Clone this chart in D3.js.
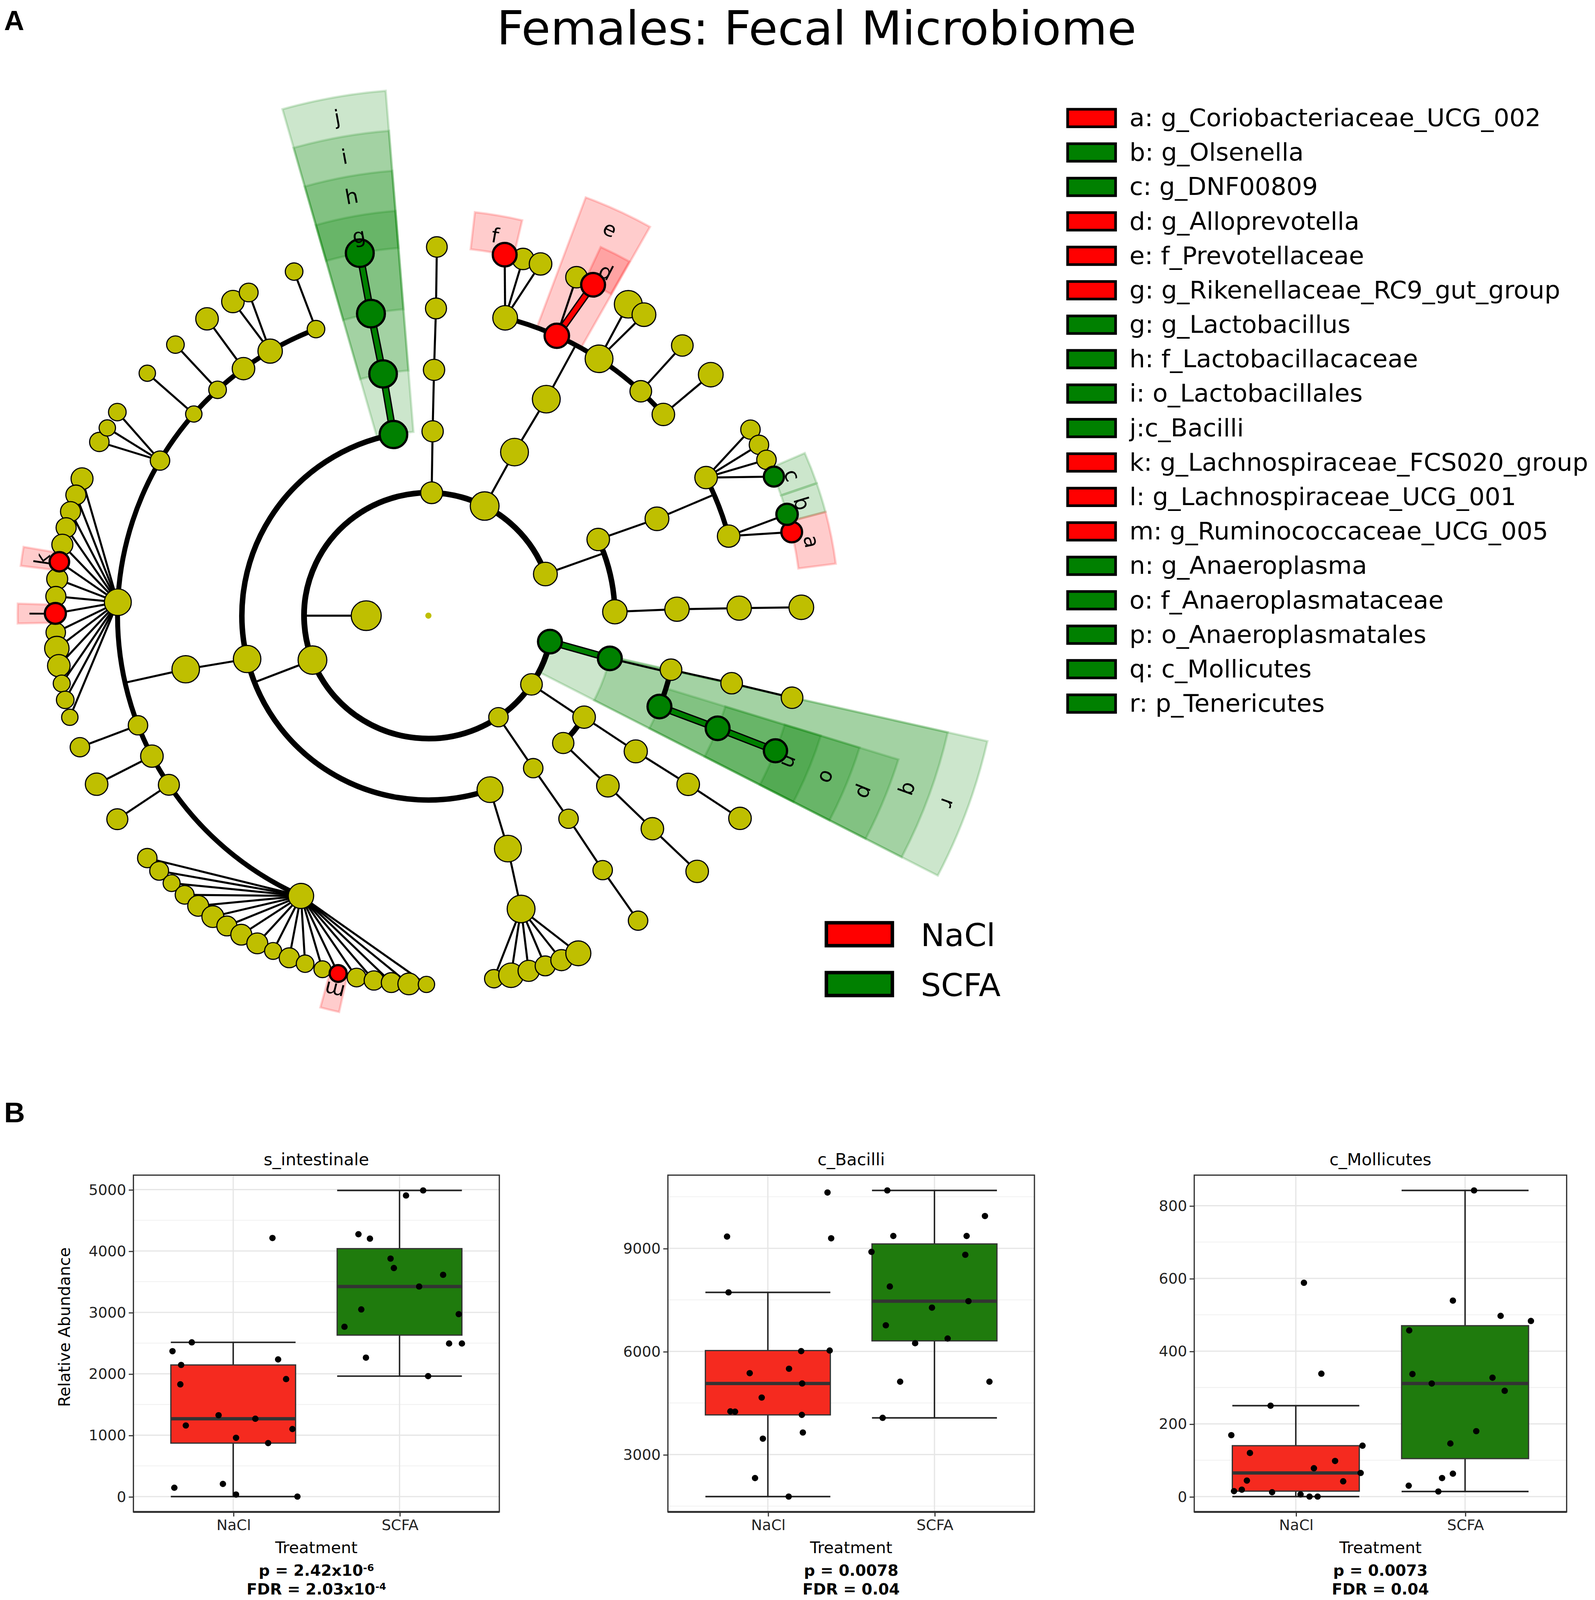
<!DOCTYPE html>
<html>
<head>
<meta charset="utf-8">
<script src="https://cdn.jsdelivr.net/npm/d3@7"></script>
<style>
html, body { margin: 0; padding: 0; background: #fff; overflow: hidden; }
svg { display: block; }
</style>
</head>
<body>
<div id="chart"></div>
<script>
// ---------- cladogram data ----------
// [id, parent, level, angle (deg, clockwise from 3 o'clock), abundance index, enriched in]
var clades = [
  ["root", null, 0, 0, 2.0, ""],
  ["K", "root", 1, 180, 9.7, ""],
  ["P1", "K", 2, 271.5, 7.1, ""],
  ["P2", "K", 2, 296.9, 9.3, ""],
  ["P3", "K", 2, 340.2, 7.7, ""],
  ["P4", "K", 2, 12.2, 7.7, "SCFA"],
  ["P5", "K", 2, 34.0, 7.0, ""],
  ["P6", "K", 2, 55.7, 6.3, ""],
  ["P7", "K", 2, 158.8, 9.3, ""],
  ["C1", "P1", 3, 271.3, 6.9, ""],
  ["O1", "C1", 4, 271.3, 6.9, ""],
  ["F1", "O1", 5, 271.4, 6.8, ""],
  ["C2", "P2", 3, 297.5, 9.0, ""],
  ["O2", "C2", 4, 298.3, 9.0, ""],
  ["F2a", "O2", 5, 284.3, 8.0, ""],
  ["F2b", "O2", 5, 294.4, 7.9, "NaCl"],
  ["F2c", "O2", 5, 303.3, 9.0, ""],
  ["F2d", "O2", 5, 313.1, 7.0, ""],
  ["F2e", "O2", 5, 319.1, 7.3, ""],
  ["C3a", "P3", 3, 335.6, 7.3, ""],
  ["C3b", "P3", 3, 358.8, 7.9, ""],
  ["O3a", "C3a", 4, 336.8, 7.7, ""],
  ["O3b", "C3b", 4, 358.5, 7.9, ""],
  ["F3a", "O3a", 5, 333.3, 7.3, ""],
  ["F3b", "O3a", 5, 345.0, 7.3, ""],
  ["F3c", "O3b", 5, 358.6, 7.9, ""],
  ["C4", "P4", 3, 13.4, 7.7, "SCFA"],
  ["O4a", "C4", 4, 12.7, 7.0, ""],
  ["O4b", "C4", 4, 21.7, 7.7, "SCFA"],
  ["F4a", "O4a", 5, 12.7, 7.0, ""],
  ["F4b", "O4b", 5, 21.5, 7.7, "SCFA"],
  ["C5a", "P5", 3, 33.4, 7.3, ""],
  ["C5b", "P5", 3, 43.7, 6.9, ""],
  ["O5a", "C5a", 4, 33.5, 7.5, ""],
  ["O5b", "C5b", 4, 43.8, 7.3, ""],
  ["F5a", "O5a", 5, 33.3, 7.3, ""],
  ["F5b", "O5b", 5, 43.9, 7.3, ""],
  ["C6", "P6", 3, 55.8, 6.3, ""],
  ["O6", "C6", 4, 55.7, 6.3, ""],
  ["F6", "O6", 5, 55.9, 6.3, ""],
  ["C7a", "P7", 3, 70.7, 8.4, ""],
  ["C7b", "P7", 3, 166.4, 8.9, ""],
  ["C7c", "P7", 3, 259.2, 8.9, "SCFA"],
  ["O7a", "C7a", 4, 71.35, 8.7, ""],
  ["O7b", "C7b", 4, 167.4, 8.9, ""],
  ["O7c", "C7c", 4, 259.5, 8.9, "SCFA"],
  ["F7a", "O7a", 5, 72.65, 9.0, ""],
  ["F7b1", "O7b", 5, 114.2, 8.2, ""],
  ["F7b2", "O7b", 5, 146.6, 6.8, ""],
  ["F7b3", "O7b", 5, 152.8, 7.3, ""],
  ["F7b4", "O7b", 5, 159.1, 6.3, ""],
  ["F7b5", "O7b", 5, 182.5, 8.7, ""],
  ["F7b6", "O7b", 5, 210.3, 6.3, ""],
  ["F7b7", "O7b", 5, 221.0, 5.3, ""],
  ["F7b8", "O7b", 5, 227.3, 5.7, ""],
  ["F7b9", "O7b", 5, 233.5, 7.3, ""],
  ["F7b10", "O7b", 5, 239.4, 7.9, ""],
  ["F7b11", "O7b", 5, 248.8, 5.7, ""],
  ["F7c", "O7c", 5, 259.35, 9.0, "SCFA"]
];

// genera per family: [angle, abundance index, enriched in]
var genera = {
  F1: [[271.3, 6.7]],
  F2a: [[281.8, 7.7, "NaCl"], [284.7, 7.0], [287.5, 7.3]],
  F2b: [[293.4, 7.0], [296.2, 7.7, "NaCl"]],
  F2c: [[302.4, 9.0], [305.3, 7.7]],
  F2d: [[312.9, 7.0]],
  F2e: [[319.2, 8.0]],
  F3a: [[329.7, 6.3], [332.4, 6.3], [335.0, 6.3], [337.85, 6.5, "SCFA"]],
  F3b: [[346.9, 6.7, "NaCl"], [344.05, 6.9, "SCFA"]],
  F3c: [[358.7, 8.0]],
  F4a: [[12.86, 7.0]],
  F4b: [[21.5, 7.5, "SCFA"]],
  F5a: [[33.35, 7.3]],
  F5b: [[43.9, 7.3]],
  F6: [[55.8, 6.3]],
  F7a: [[79.9, 6.0], [77.2, 8.0], [74.4, 6.9], [71.75, 6.5], [69.1, 6.9], [66.3, 8.1]],
  F7b1: [[138.9, 6.3], [136.2, 6.1], [133.5, 5.5], [130.8, 6.1], [128.1, 6.8], [125.3, 7.1],
         [122.7, 6.5], [120.1, 6.8], [117.3, 6.8], [114.6, 5.5], [111.9, 6.5], [109.3, 5.7],
         [106.5, 5.5], [104.0, 5.5, "NaCl"], [101.1, 6.1], [98.4, 6.3], [95.7, 6.5], [93.0, 7.1], [90.3, 5.3]],
  F7b2: [[146.5, 6.8]],
  F7b3: [[152.8, 7.3]],
  F7b4: [[159.1, 6.3]],
  F7b5: [[201.8, 7.1], [199.1, 6.5], [196.4, 6.5], [193.8, 6.5], [191.1, 6.8], [188.4, 6.3, "NaCl"],
         [185.7, 6.8], [183.0, 6.5], [180.35, 6.8, "NaCl"], [177.4, 6.3], [174.9, 7.9], [172.2, 7.3],
         [169.4, 5.5], [166.8, 5.7], [164.0, 5.3]],
  F7b6: [[208.1, 6.3], [210.6, 5.3], [213.5, 5.7]],
  F7b7: [[221.1, 5.3]],
  F7b8: [[227.3, 5.7]],
  F7b9: [[233.6, 7.3]],
  F7b10: [[238.4, 7.3], [241.2, 6.1]],
  F7b11: [[248.9, 5.7]],
  F7c: [[259.4, 9.0, "SCFA"]]
};

// shaded biomarker clades: [letter, group, level, start angle, end angle]
var highlights = [
  ["r", "SCFA", 2, 12.8, 27.3],
  ["q", "SCFA", 3, 12.8, 27.3],
  ["p", "SCFA", 4, 17.2, 27.3],
  ["o", "SCFA", 5, 17.2, 27.3],
  ["n", "SCFA", 6, 17.2, 27.3],
  ["j", "SCFA", 3, 254.1, 265.4],
  ["i", "SCFA", 4, 254.1, 265.4],
  ["h", "SCFA", 5, 254.1, 265.4],
  ["g", "SCFA", 6, 254.1, 265.4],
  ["e", "NaCl", 5, 290.4, 299.4],
  ["d", "NaCl", 6, 294.8, 299.3],
  ["f", "NaCl", 6, 276.5, 283.2],
  ["c", "SCFA", 6, 336.4, 340.95],
  ["b", "SCFA", 6, 341.0, 345.2],
  ["a", "NaCl", 6, 345.2, 352.65],
  ["k", "NaCl", 6, 187.05, 189.75],
  ["l", "NaCl", 6, 178.9, 181.7],
  ["m", "NaCl", 6, 102.55, 105.25]
];

var legendLabels = [
  "a: g_Coriobacteriaceae_UCG_002", "b: g_Olsenella", "c: g_DNF00809", "d: g_Alloprevotella",
  "e: f_Prevotellaceae", "g: g_Rikenellaceae_RC9_gut_group", "g: g_Lactobacillus",
  "h: f_Lactobacillacaceae", "i: o_Lactobacillales", "j:c_Bacilli",
  "k: g_Lachnospiraceae_FCS020_group", "l: g_Lachnospiraceae_UCG_001", "m: g_Ruminococcaceae_UCG_005",
  "n: g_Anaeroplasma", "o: f_Anaeroplasmataceae", "p: o_Anaeroplasmatales", "q: c_Mollicutes", "r: p_Tenericutes"
];
var legendGroups = ["NaCl", "SCFA", "SCFA", "NaCl", "NaCl", "NaCl", "SCFA", "SCFA", "SCFA", "SCFA",
  "NaCl", "NaCl", "NaCl", "SCFA", "SCFA", "SCFA", "SCFA", "SCFA"];

var groups = ["NaCl", "SCFA"];

// ---------- box plot data ----------
var boxTitles = ["s_intestinale", "c_Bacilli", "c_Mollicutes"];
var yTicks = [[0, 1000, 2000, 3000, 4000, 5000], [3000, 6000, 9000], [0, 200, 400, 600, 800]];
var intestinaleNaCl = [2368, 2512, 2144, 1828, 1158, 1325, 957, 1268, 871, 4211, 2234, 1914, 1100, 144, 206, 33, 0];
var intestinaleNaClJitter = [-0.365, -0.249, -0.313, -0.318, -0.285, -0.088, 0.017, 0.133, 0.210, 0.236, 0.270, 0.318, 0.356, -0.354, -0.062, 0.017, 0.386];
var intestinaleSCFA = [4904, 4986, 4273, 4201, 3876, 3722, 3612, 3421, 3048, 2971, 2766, 2493, 2493, 2263, 1962];
var intestinaleSCFAJitter = [0.039, 0.142, -0.247, -0.178, -0.054, -0.034, 0.262, 0.118, -0.230, 0.356, -0.331, 0.298, 0.375, -0.202, 0.172];
var bacilliNaCl = [9342, 10624, 9291, 7718, 6009, 6026, 5496, 5368, 5068, 4658, 4256, 4248, 4154, 3641, 3462, 2316, 1777];
var bacilliNaClJitter = [-0.245, 0.358, 0.380, -0.236, 0.200, 0.371, 0.127, -0.109, 0.206, -0.037, -0.225, -0.197, 0.204, 0.210, -0.030, -0.077, 0.125];
var bacilliSCFA = [10684, 9940, 9359, 9359, 8897, 8812, 7889, 7462, 7274, 6761, 6376, 6239, 5120, 5120, 4068];
var bacilliSCFAJitter = [-0.283, 0.303, -0.247, 0.193, -0.378, 0.185, -0.268, 0.204, -0.015, -0.292, 0.079, -0.116, -0.206, 0.330, -0.311];
var mollicutesNaCl = [588, 338, 250, 169, 140, 120, 98, 78, 65, 44, 42, 15, 19, 12, 6, 0, 0];
var mollicutesNaClJitter = [0.048, 0.151, -0.149, -0.381, 0.394, -0.271, 0.232, 0.107, 0.383, -0.289, 0.280, -0.365, -0.319, -0.140, 0.028, 0.081, 0.129];
var mollicutesSCFA = [842, 539, 497, 483, 457, 337, 327, 311, 291, 180, 146, 63, 51, 30, 14];
var mollicutesSCFAJitter = [0.053, -0.072, 0.210, 0.389, -0.330, -0.311, 0.162, -0.197, 0.234, 0.066, -0.087, -0.072, -0.136, -0.333, -0.158];
var pValues = [["2.42x10", "-6"], ["0.0078", ""], ["0.0073", ""]];
var fdrValues = [["2.03x10", "-4"], ["0.04", ""], ["0.04", ""]];

// ---------- setup ----------
// drawing units: the figure is laid out on a 1547-wide grid and stretched to the visible window
var W = 1547, H = 1547 * 4143 / 4083;
var vw = window.innerWidth || 4083, vh = window.innerHeight || 4143;
var svg = d3.select("#chart").append("svg")
    .attr("width", vw)
    .attr("height", vh)
    .attr("viewBox", "0 0 " + W + " " + H)
    .attr("preserveAspectRatio", "none")
    .style("font-family", "'DejaVu Sans', sans-serif");

var cladeColor = {"": "#bfbf00", "NaCl": "#ff0000", "SCFA": "#008000"};
var boxFill = {"NaCl": "#f52a1f", "SCFA": "#1f7b0d"};

// title and panel letters
svg.append("text").attr("x", 792).attr("y", 43.5).attr("text-anchor", "middle")
    .style("font-size", "46px").text("Females: Fecal Microbiome");
svg.append("text").attr("x", 4).attr("y", 29.5)
    .style("font-family", "'Liberation Sans', Arial, sans-serif").style("font-weight", "bold")
    .style("font-size", "27px").text("A");
svg.append("text").attr("x", 4).attr("y", 1101)
    .style("font-family", "'Liberation Sans', Arial, sans-serif").style("font-weight", "bold")
    .style("font-size", "28px").text("B");

// ---------- cladogram ----------
var cx = 415.5, cy = 604;
var rLevel = d3.scaleLinear().domain([0, 6]).range([0, 361.8]);
var rOuter = d3.scaleLinear().domain([7, 2]).range([359, 556]);
var rNode = d3.scaleLinear().domain([0, 10]).range([0, 15]);
var rad = d3.scaleLinear().domain([0, 180]).range([0, Math.PI]);
function pt(r, a) { return [cx + r * Math.cos(rad(a)), cy + r * Math.sin(rad(a))]; }

var byId = {};
clades.forEach(function(c) {
  byId[c[0]] = {id: c[0], parent: c[1], level: c[2], angle: c[3], abund: c[4], group: c[5], children: []};
});
Object.keys(genera).forEach(function(fid) {
  genera[fid].forEach(function(g, k) {
    var id = fid + "_" + k;
    byId[id] = {id: id, parent: fid, level: 6, angle: g[0], abund: g[1], group: g[2] || "", children: []};
  });
});
var nodes = Object.keys(byId).map(function(k) { return byId[k]; });
nodes.forEach(function(n) { if (n.parent) byId[n.parent].children.push(n); });

var clado = svg.append("g");

// shaded wedges
var wedge = d3.arc()
    .innerRadius(function(d) { return rLevel(d[2]); })
    .outerRadius(function(d) { return rOuter(d[2]); })
    .startAngle(function(d) { return rad(d[3] + 90); })
    .endAngle(function(d) { return rad(d[4] + 90); });
clado.selectAll(".wedge").data(highlights).enter().append("path")
    .attr("class", "wedge")
    .attr("transform", "translate(" + cx + "," + cy + ")")
    .attr("d", wedge)
    .attr("fill", function(d) { return cladeColor[d[1]]; })
    .attr("fill-opacity", 0.2)
    .attr("stroke", function(d) { return cladeColor[d[1]]; })
    .attr("stroke-opacity", 0.18)
    .attr("stroke-width", 2.2);

// edges
var thin = [], colored = [], arcs = [];
nodes.forEach(function(p) {
  if (!p.children.length || p.level === 0) return;
  if (p.level === 5 || p.children.length === 1) {
    p.children.forEach(function(c) {
      var seg = {a: pt(rLevel(p.level), p.angle), b: pt(rLevel(c.level), c.angle),
                 group: (c.group && c.group === p.group) ? c.group : ""};
      (seg.group ? colored : thin).push(seg);
    });
  } else {
    var r1 = rLevel(p.level + 1);
    thin.push({a: pt(rLevel(p.level), p.angle), b: pt(r1, p.angle)});
    var angs = p.children.map(function(c) { return c.angle; }).concat([p.angle]);
    arcs.push({r: r1, a0: d3.min(angs), a1: d3.max(angs), level: p.level + 1});
  }
});

var arcWidth = d3.scaleLinear().domain([2, 5]).range([5.6, 4.8]);
clado.selectAll(".arc").data(arcs).enter().append("path")
    .attr("d", function(d) {
      var p = d3.path();
      p.arc(cx, cy, d.r, rad(d.a0), rad(d.a1));
      return p.toString();
    })
    .attr("fill", "none").attr("stroke", "#000")
    .attr("stroke-width", function(d) { return arcWidth(d.level); });

clado.selectAll(".thin").data(thin).enter().append("line")
    .attr("x1", function(d) { return d.a[0]; }).attr("y1", function(d) { return d.a[1]; })
    .attr("x2", function(d) { return d.b[0]; }).attr("y2", function(d) { return d.b[1]; })
    .attr("stroke", "#000").attr("stroke-width", 2);

clado.selectAll(".cunder").data(colored).enter().append("line")
    .attr("x1", function(d) { return d.a[0]; }).attr("y1", function(d) { return d.a[1]; })
    .attr("x2", function(d) { return d.b[0]; }).attr("y2", function(d) { return d.b[1]; })
    .attr("stroke", "#000").attr("stroke-width", 7.2);
clado.selectAll(".cover").data(colored).enter().append("line")
    .attr("x1", function(d) { return d.a[0]; }).attr("y1", function(d) { return d.a[1]; })
    .attr("x2", function(d) { return d.b[0]; }).attr("y2", function(d) { return d.b[1]; })
    .attr("stroke", function(d) { return cladeColor[d.group]; }).attr("stroke-width", 4.6);

// nodes (biomarkers on top)
var drawOrder = nodes.filter(function(n) { return !n.group; })
    .concat(nodes.filter(function(n) { return n.group; }));
clado.selectAll(".node").data(drawOrder).enter().append("circle")
    .attr("cx", function(d) { return pt(rLevel(d.level), d.angle)[0]; })
    .attr("cy", function(d) { return pt(rLevel(d.level), d.angle)[1]; })
    .attr("r", function(d) { return rNode(d.abund); })
    .attr("fill", function(d) { return cladeColor[d.group]; })
    .attr("stroke", function(d) { return d.level === 0 ? "none" : "#000"; })
    .attr("stroke-width", function(d) { return d.group ? 2.2 : 1.1; });

// wedge letters
clado.selectAll(".wl").data(highlights).enter().append("text")
    .attr("transform", function(d) {
      var mid = (d[3] + d[4]) / 2, p = pt(rOuter(d[2]) - 19.7, mid);
      return "translate(" + p[0] + "," + p[1] + ") rotate(" + (mid + 90) + ")";
    })
    .attr("text-anchor", "middle").attr("dy", "0.35em")
    .style("font-size", "20px")
    .text(function(d) { return d[0]; });

// biomarker legend
var leg = svg.append("g");
var rowY = d3.scaleLinear().domain([0, 17]).range([115.8, 690.3]);
legendLabels.forEach(function(t, i) {
  leg.append("rect").attr("x", 1035.5).attr("y", rowY(i) - 8.6).attr("width", 46.5).attr("height", 17.2)
      .attr("fill", cladeColor[legendGroups[i]]).attr("stroke", "#000").attr("stroke-width", 2.6);
  leg.append("text").attr("x", 1095.5).attr("y", rowY(i) + 8).style("font-size", "24px")
      .style("white-space", "pre").text(t);
});

// class legend
groups.forEach(function(g, i) {
  var y0 = 904.3 + i * 48.9;
  leg.append("rect").attr("x", 801.5).attr("y", y0 + 1).attr("width", 64).attr("height", 22.5)
      .attr("fill", cladeColor[g]).attr("stroke", "#000").attr("stroke-width", 3.4);
  leg.append("text").attr("x", 893).attr("y", y0 + 24).style("font-size", "31px").text(g);
});

// ---------- box plots ----------
var panelLeft = [129.4, 647.8, 1158.3], panelRight = [484.3, 1003.3, 1519.5];
var panelTop = 1152.9, panelBottom = 1483.3;
var panelData = [
  [[intestinaleNaCl, intestinaleNaClJitter], [intestinaleSCFA, intestinaleSCFAJitter]],
  [[bacilliNaCl, bacilliNaClJitter], [bacilliSCFA, bacilliSCFAJitter]],
  [[mollicutesNaCl, mollicutesNaClJitter], [mollicutesSCFA, mollicutesSCFAJitter]]
];

function boxStats(vals) {
  var s = vals.slice().sort(d3.ascending);
  var q1 = d3.quantile(s, 0.25), med = d3.quantile(s, 0.5), q3 = d3.quantile(s, 0.75);
  var iqr = q3 - q1;
  var lo = d3.min(s.filter(function(v) { return v >= q1 - 1.5 * iqr; }));
  var hi = d3.max(s.filter(function(v) { return v <= q3 + 1.5 * iqr; }));
  return {q1: q1, med: med, q3: q3, lo: lo, hi: hi};
}

panelData.forEach(function(pd, i) {
  var left = panelLeft[i], right = panelRight[i], mid = (left + right) / 2;
  var all = pd[0][0].concat(pd[1][0]);
  var ext = d3.extent(all), pad = (ext[1] - ext[0]) * 0.05;
  var y = d3.scaleLinear().domain([ext[0] - pad, ext[1] + pad]).range([panelBottom, panelTop]);
  var x = d3.scaleLinear().domain([0.4, 2.6]).range([left, right]);
  var g = svg.append("g");
  var ticks = yTicks[i], step = ticks[1] - ticks[0];
  var minor = d3.range(ticks[0] - step / 2, ticks[ticks.length - 1] + step, step)
      .filter(function(v) { return v > y.domain()[0] && v < y.domain()[1]; });

  g.selectAll(".minor").data(minor).enter().append("line")
      .attr("x1", left).attr("x2", right).attr("y1", y).attr("y2", y)
      .attr("stroke", "#efefef").attr("stroke-width", 0.7);
  g.selectAll(".major").data(ticks).enter().append("line")
      .attr("x1", left).attr("x2", right).attr("y1", y).attr("y2", y)
      .attr("stroke", "#e6e6e6").attr("stroke-width", 1.2);
  g.selectAll(".vmajor").data([1, 2]).enter().append("line")
      .attr("x1", x).attr("x2", x).attr("y1", panelTop).attr("y2", panelBottom)
      .attr("stroke", "#e6e6e6").attr("stroke-width", 1.2);

  pd.forEach(function(series, k) {
    var st = boxStats(series[0]), c = k + 1, hw = 0.375;
    // whiskers and caps
    g.append("line").attr("x1", x(c)).attr("x2", x(c)).attr("y1", y(st.lo)).attr("y2", y(st.hi))
        .attr("stroke", "#222").attr("stroke-width", 1.4);
    [st.lo, st.hi].forEach(function(v) {
      g.append("line").attr("x1", x(c - hw)).attr("x2", x(c + hw)).attr("y1", y(v)).attr("y2", y(v))
          .attr("stroke", "#222").attr("stroke-width", 1.5);
    });
    g.append("rect").attr("x", x(c - hw)).attr("width", x(c + hw) - x(c - hw))
        .attr("y", y(st.q3)).attr("height", y(st.q1) - y(st.q3))
        .attr("fill", boxFill[groups[k]]).attr("stroke", "#333").attr("stroke-width", 1.2);
    g.append("line").attr("x1", x(c - hw)).attr("x2", x(c + hw)).attr("y1", y(st.med)).attr("y2", y(st.med))
        .attr("stroke", "#333").attr("stroke-width", 3.3);
    g.selectAll(".pt" + k).data(series[0]).enter().append("circle")
        .attr("cx", function(d, j) { return x(c + series[1][j]); })
        .attr("cy", function(d) { return y(d); })
        .attr("r", 3.1).attr("fill", "#000");
  });

  // border
  g.append("rect").attr("x", left).attr("y", panelTop).attr("width", right - left)
      .attr("height", panelBottom - panelTop).attr("fill", "none")
      .attr("stroke", "#333").attr("stroke-width", 1.2);
  g.append("line").attr("x1", left).attr("x2", right).attr("y1", panelBottom).attr("y2", panelBottom)
      .attr("stroke", "#333").attr("stroke-width", 1.9);

  // axes
  var ya = g.append("g").attr("transform", "translate(" + left + ",0)")
      .call(d3.axisLeft(y).tickValues(ticks).tickFormat(d3.format("d"))
        .tickSize(4.5).tickPadding(2.5).tickSizeOuter(0));
  ya.select(".domain").remove();
  ya.selectAll("line").attr("stroke", "#333").attr("stroke-width", 1.1);
  ya.selectAll("text").style("font-family", "'DejaVu Sans', sans-serif").style("font-size", "14.3px").attr("fill", "#222");

  var xa = g.append("g").attr("transform", "translate(0," + panelBottom + ")")
      .call(d3.axisBottom(x).tickValues([1, 2]).tickFormat(function(d) { return groups[d - 1]; })
        .tickSize(4.5).tickPadding(3).tickSizeOuter(0));
  xa.select(".domain").remove();
  xa.selectAll("line").attr("stroke", "#333").attr("stroke-width", 1.1);
  xa.selectAll("text").style("font-family", "'DejaVu Sans', sans-serif").style("font-size", "14.3px").attr("fill", "#222");

  // texts
  g.append("text").attr("x", mid).attr("y", 1143.3).attr("text-anchor", "middle")
      .style("font-size", "16.3px").text(boxTitles[i]);
  g.append("text").attr("x", mid).attr("y", 1523.8).attr("text-anchor", "middle")
      .style("font-size", "15.7px").text("Treatment");
  [[pValues[i], "p = ", 1546], [fdrValues[i], "FDR = ", 1564.5]].forEach(function(row) {
    var t = g.append("text").attr("x", mid).attr("y", row[2]).attr("text-anchor", "middle")
        .style("font-size", "15px").style("font-weight", "bold");
    t.append("tspan").text(row[1] + row[0][0]);
    if (row[0][1]) {
      t.append("tspan").attr("dy", "-0.5em").style("font-size", "9.5px").text(row[0][1]);
    }
  });
  if (i === 0) {
    g.append("text").attr("transform", "translate(62,1302) rotate(-90)")
        .attr("text-anchor", "middle").attr("dy", "0.36em")
        .style("font-size", "15.7px").text("Relative Abundance");
  }
});
</script>
</body>
</html>
